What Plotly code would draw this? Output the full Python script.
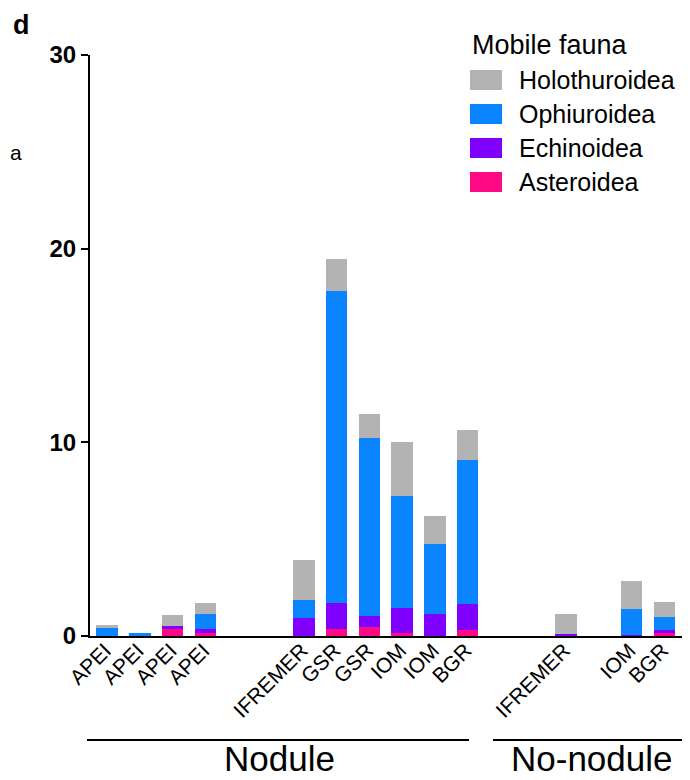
import plotly.graph_objects as go

# ---- data ----
sites = ["APEI", "APEI", "APEI", "APEI",
         "IFREMER", "GSR", "GSR", "IOM", "IOM", "BGR",
         "IFREMER", "IOM", "BGR"]
# empty slots inserted before each site (visual grouping of the original)
gaps_before = [0, 0, 0, 0, 2, 0, 0, 0, 0, 0, 2, 1, 0]

asteroidea    = [0.00, 0.00, 0.35, 0.15, 0.00, 0.36, 0.47, 0.17, 0.00, 0.29, 0.00, 0.00, 0.17]
echinoidea    = [0.00, 0.00, 0.15, 0.23, 0.94, 1.33, 0.56, 1.26, 1.15, 1.35, 0.12, 0.05, 0.12]
ophiuroidea   = [0.43, 0.15, 0.00, 0.74, 0.92, 16.10, 9.19, 5.81, 3.59, 7.46, 0.00, 1.33, 0.69]
holothuroidea = [0.14, 0.00, 0.59, 0.57, 2.06, 1.70, 1.24, 2.79, 1.48, 1.53, 1.03, 1.46, 0.79]

y_ticks = [0, 10, 20, 30]
habitat_labels = ["Nodule", "No-nodule"]
legend_title = "Mobile fauna"

series = [
    ("Asteroidea", asteroidea, "#ff0a84"),
    ("Echinoidea", echinoidea, "#8000ff"),
    ("Ophiuroidea", ophiuroidea, "#0a84ff"),
    ("Holothuroidea", holothuroidea, "#b3b3b3"),
]

# slot positions
xpos = []
p = -1
for g in gaps_before:
    p += 1 + g
    xpos.append(p)

FONT = "Liberation Sans, Arial, sans-serif"
OFF = 8  # page offset of the plot div
W, H = 690 - OFF, 780 - OFF
L, T = 90 - OFF, 55 - OFF
PW, PH = 596, 581
R = W - L - PW
B = H - T - PH


def px(x):
    return (x - OFF - L) / PW


def py(y):
    return (T + PH - (y - OFF)) / PH


fig = go.Figure()
for name, vals, col in series:
    fig.add_trace(go.Bar(x=xpos, y=vals, name=name, marker=dict(color=col, line=dict(width=0)),
                         width=0.66, showlegend=False))

fig.update_layout(
    barmode="stack",
    width=W, height=H, autosize=False,
    margin=dict(l=L, r=R, t=T, b=B),
    plot_bgcolor="white", paper_bgcolor="white",
    font=dict(family=FONT, color="black"),
    xaxis=dict(range=[-0.52, 17.66], tickmode="array", tickvals=xpos, ticktext=sites,
               tickangle=-45, tickfont=dict(size=21), showgrid=False, zeroline=False,
               showline=True, linecolor="black", linewidth=2, ticks="",
               ticklabelshift=-2, ticklabelstandoff=-8),
    yaxis=dict(range=[0, 30], tickmode="array", tickvals=y_ticks,
               tickfont=dict(size=24, family=FONT, weight="bold"),
               ticks="outside", ticklen=7, tickwidth=2, tickcolor="black",
               showline=True, linecolor="black", linewidth=2, showgrid=False, zeroline=False),
)

shapes = []
annotations = []
# habitat brackets
for (x0, x1, cx), lab in zip([(87, 469, 279), (493, 690, 592)], habitat_labels):
    shapes.append(dict(type="line", xref="paper", yref="paper", x0=px(x0), x1=px(x1),
                       y0=py(740), y1=py(740), line=dict(color="black", width=2)))
    annotations.append(dict(xref="paper", yref="paper", x=px(cx), y=py(780), text=lab,
                            showarrow=False, font=dict(size=35), xanchor="center", yanchor="bottom"))

# legend (manual)
annotations.append(dict(xref="paper", yref="paper", x=px(470), y=py(45), text=legend_title,
                        showarrow=False, font=dict(size=27), xanchor="left", yanchor="middle"))
for i, (name, vals, col) in enumerate(reversed(series)):
    yc = 80 + 34 * i
    shapes.append(dict(type="rect", xref="paper", yref="paper", x0=px(470), x1=px(502),
                       y0=py(yc - 10), y1=py(yc + 10), fillcolor=col, line=dict(width=0)))
    annotations.append(dict(xref="paper", yref="paper", x=px(517), y=py(yc), text=name,
                            showarrow=False, font=dict(size=25), xanchor="left", yanchor="middle"))

# panel letter and clipped neighbour text
annotations.append(dict(xref="paper", yref="paper", x=px(11), y=py(8), text="<b>d</b>",
                        showarrow=False, font=dict(size=27), xanchor="left", yanchor="top"))
annotations.append(dict(xref="paper", yref="paper", x=px(8), y=py(152), text="a",
                        showarrow=False, font=dict(size=21), xanchor="left", yanchor="middle"))

fig.update_layout(shapes=shapes, annotations=annotations)
fig.write_html("out.html")
